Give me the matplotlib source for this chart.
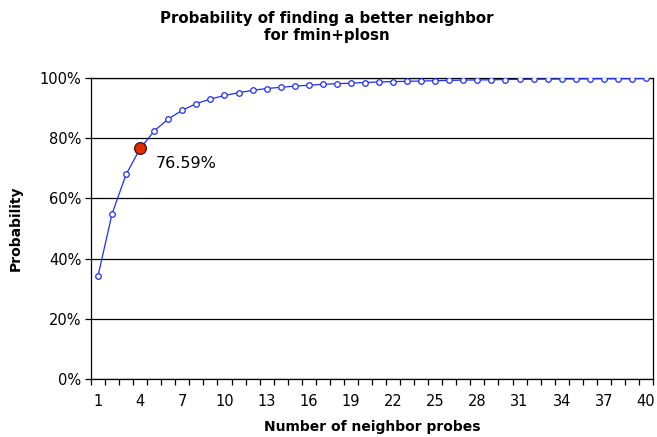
import matplotlib
matplotlib.use("Agg")
import matplotlib.pyplot as plt
from matplotlib.ticker import FixedLocator, FuncFormatter

# probes 1..40 and probability of finding a better neighbor (%)
probes = list(range(1, 41))
prob = [34.3, 54.9, 68.0, 76.59, 82.4, 86.4, 89.3, 91.5, 93.0, 94.2,
        95.1, 95.9, 96.5, 96.9, 97.3, 97.6, 97.9, 98.1, 98.3, 98.5,
        98.7, 98.8, 98.9, 99.0, 99.1, 99.2, 99.3, 99.35, 99.4, 99.5,
        99.55, 99.6, 99.65, 99.7, 99.72, 99.75, 99.78, 99.8, 99.82, 99.85]
highlight = 4
label_ticks = list(range(1, 41, 3))

plt.rcParams["font.family"] = "DejaVu Sans"

fig = plt.figure(figsize=(6.57, 4.37), dpi=100)
ax = fig.add_axes([91/657, 1 - 379/437, (653 - 91)/657, (379 - 78)/437])

ax.plot(probes, prob, color="#1f2ff0", lw=0.9, marker="o", ms=4,
        mfc="white", mec="#1f2ff0", mew=0.9, zorder=3)
i = probes.index(highlight)
ax.plot([highlight], [prob[i]], marker="o", ms=8.5, mfc="#e02a00",
        mec="#3a0000", mew=0.8, ls="none", zorder=4)
ax.annotate(f"{prob[i]:.2f}%", (highlight, prob[i]), xytext=(11.5, -11),
            textcoords="offset points", va="center", ha="left", fontsize=11.5)

ax.set_xlim(0.5, 40.5)
ax.set_ylim(0, 100)
ax.set_yticks(range(0, 101, 20))
ax.yaxis.set_major_formatter(FuncFormatter(lambda v, _: f"{v:.0f}%"))
ax.grid(axis="y", color="black", lw=0.9)
ax.set_axisbelow(True)

ax.xaxis.set_major_locator(FixedLocator(label_ticks))
ax.xaxis.set_minor_locator(FixedLocator([k + 0.5 for k in range(0, 41)]))
ax.tick_params(axis="x", which="major", length=0, pad=11, labelsize=10.5)
ax.tick_params(axis="x", which="minor", length=4, width=0.9, direction="out")
ax.tick_params(axis="y", length=4, width=0.9, labelsize=10.5, pad=3)

for sp in ax.spines.values():
    sp.set_color("black")
    sp.set_linewidth(0.9)

ax.set_xlabel("Number of neighbor probes", fontsize=10, fontweight="bold", labelpad=8)
ax.set_ylabel("Probability", fontsize=10, fontweight="bold", labelpad=12)

fig.text(0.498, 1 - 27/437, "Probability of finding a better neighbor\nfor fmin+plosn",
         ha="center", va="center", fontsize=10.8, fontweight="bold", linespacing=1.15)

fig.savefig("out.png", dpi=100)
